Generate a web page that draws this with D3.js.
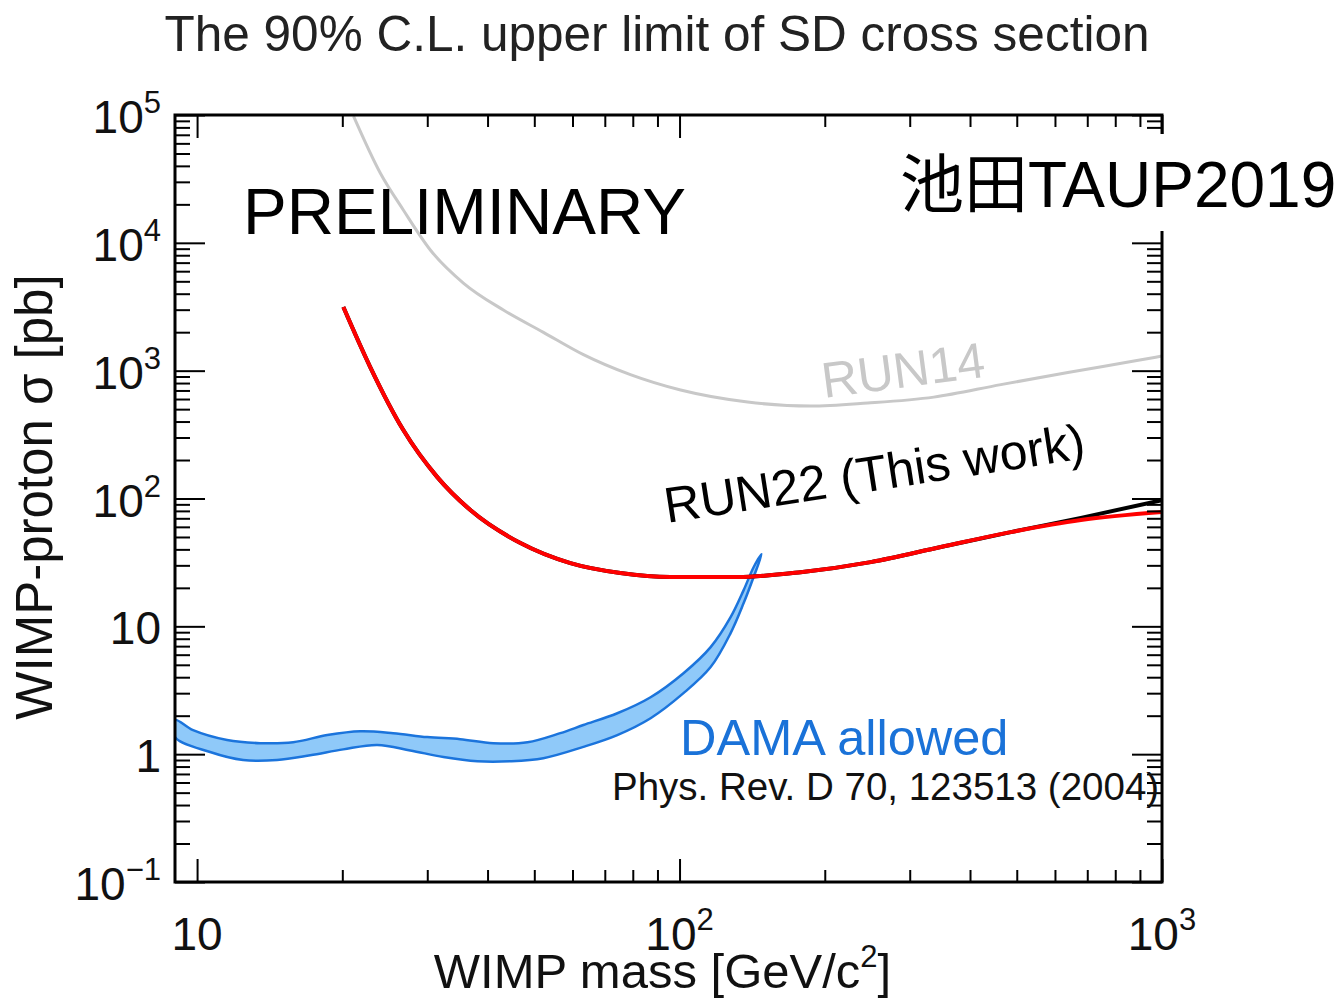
<!DOCTYPE html>
<html>
<head>
<meta charset="utf-8">
<script src="https://cdn.jsdelivr.net/npm/d3@7"></script>
<style>
  body { margin: 0; background: #fff; }
  text { font-family: "Liberation Sans", Arial, "Noto Sans CJK JP", sans-serif; }
</style>
</head>
<body>
<div id="chart"></div>
<script>
// ---- data ----
var run14Mass  = [21.1, 23.97, 26.76, 30.44, 35.64, 43.14, 52.22, 63.22, 79.1, 100.5, 138.4, 187, 245.5, 336.5, 463.4, 638, 875, 1000];
var run14Sigma = [98000, 35200, 18060, 8790, 4845, 2980, 1995, 1334, 930, 705, 568, 528, 558, 621, 778, 966, 1189, 1300];

var run22Mass     = [20.1, 22.85, 26.76, 31.47, 36.85, 46.8, 59.4, 75.4, 95.8, 131.9, 178.2, 249, 348, 486, 679, 1000];
var run22Sigma    = [3146, 1067, 343, 147, 81.2, 44.8, 31.2, 26.1, 24.3, 24.3, 26.5, 31.8, 41.7, 54.6, 67.8, 78.3];
var run22BlkSigma = [3146, 1067, 343, 147, 81.2, 44.8, 31.2, 26.1, 24.3, 24.3, 26.5, 31.8, 41.7, 54.6, 70.5, 97.0];

var damaUpperMass  = [9.0, 9.81, 11.54, 13.51, 15.82, 18.61, 21.79, 25.5, 30.0, 35.1, 41.1, 48.4, 56.6, 63.2, 74.3, 87.1, 101.9, 116, 127.6, 135.8, 142.4, 147.9];
var damaUpperSigma = [1.85, 1.54, 1.29, 1.22, 1.24, 1.41, 1.51, 1.46, 1.36, 1.31, 1.22, 1.24, 1.46, 1.69, 2.09, 2.79, 4.3, 6.88, 11.8, 19.2, 29.0, 36.7];
var damaLowerMass  = [9.0, 10.64, 12.46, 14.65, 17.16, 20.09, 23.63, 27.66, 32.4, 38.1, 44.6, 52.2, 63.2, 74.3, 87.1, 101.9, 116, 127.6, 135.8, 142.4];
var damaLowerSigma = [1.36, 1.04, 0.90, 0.90, 0.98, 1.09, 1.18, 1.07, 0.95, 0.88, 0.88, 0.93, 1.14, 1.41, 1.91, 3.0, 4.8, 8.85, 15.2, 24.3];

var xMajor = [10, 100, 1000];
var xMajorLabels = [["10", ""], ["10", "2"], ["10", "3"]];
var xMinor = [20, 30, 40, 50, 60, 70, 80, 90, 200, 300, 400, 500, 600, 700, 800, 900];
var yMajor = [0.1, 1, 10, 100, 1e3, 1e4, 1e5];
var yMajorLabels = [["10", "\u22121"], ["1", ""], ["10", ""], ["10", "2"], ["10", "3"], ["10", "4"], ["10", "5"]];
var yMinor = [];
[0.1, 1, 10, 100, 1000, 10000].forEach(function(d) {
  for (var k = 2; k <= 9; k++) yMinor.push(+(k * d).toPrecision(3));
});

// ---- layout ----
var svgWidth = 1338;
var svgHeight = 999;
var margin = { top: 115, right: 176, bottom: 117, left: 175 };
var width = svgWidth - margin.left - margin.right;
var height = svgHeight - margin.top - margin.bottom;

var svg = d3.select("#chart")
  .append("svg")
  .attr("width", svgWidth)
  .attr("height", svgHeight)
  .style("background", "#fff");

var chartGroup = svg.append("g")
  .attr("transform", `translate(${margin.left}, ${margin.top})`);

var x = d3.scaleLog().domain([9, 1000]).range([0, width]);
var y = d3.scaleLog().domain([0.1, 1e5]).range([height, 0]);

chartGroup.append("clipPath").attr("id", "plotclip")
  .append("rect").attr("width", width).attr("height", height);

var plot = chartGroup.append("g").attr("clip-path", "url(#plotclip)");

var zip = function(ms, ss) { return ms.map(function(m, i) { return [m, ss[i]]; }); };

var line = d3.line()
  .x(d => x(d[0]))
  .y(d => y(d[1]))
  .curve(d3.curveMonotoneX);

// DAMA band: upper edge out to the tip, lower edge back
var damaPts = zip(damaUpperMass, damaUpperSigma).concat(zip(damaLowerMass, damaLowerSigma).reverse());
var bandLine = d3.line()
  .x(d => x(d[0]))
  .y(d => y(d[1]))
  .curve(d3.curveCatmullRomClosed.alpha(0.5));

plot.append("path")
  .attr("d", bandLine(damaPts))
  .attr("fill", "#8fc9f9")
  .attr("stroke", "#1b74dc")
  .attr("stroke-width", 2.5);

plot.append("path")
  .attr("d", line(zip(run14Mass, run14Sigma)))
  .attr("fill", "none")
  .attr("stroke", "#c8c8c8")
  .attr("stroke-width", 3);

plot.append("path")
  .attr("d", line(zip(run22Mass, run22BlkSigma)))
  .attr("fill", "none")
  .attr("stroke", "#000")
  .attr("stroke-width", 4);

plot.append("path")
  .attr("d", line(zip(run22Mass, run22Sigma)))
  .attr("fill", "none")
  .attr("stroke", "#ff0000")
  .attr("stroke-width", 4);

// ---- ticks on all four sides, pointing inward ----
function ticks(axis, vals, size, transform) {
  var g = chartGroup.append("g")
    .attr("transform", transform)
    .call(axis.tickValues(vals).tickSize(-size).tickFormat(""));
  g.select(".domain").remove();
  g.selectAll("line").attr("stroke", "#000").attr("stroke-width", 2);
}
ticks(d3.axisBottom(x), xMinor, 12, `translate(0, ${height})`);
ticks(d3.axisBottom(x), xMajor, 23, `translate(0, ${height})`);
ticks(d3.axisTop(x), xMinor, 12, "translate(0, 0)");
ticks(d3.axisTop(x), xMajor, 23, "translate(0, 0)");
ticks(d3.axisLeft(y), yMinor, 15, "translate(0, 0)");
ticks(d3.axisLeft(y), yMajor, 30, "translate(0, 0)");
ticks(d3.axisRight(y), yMinor, 15, `translate(${width}, 0)`);
ticks(d3.axisRight(y), yMajor, 30, `translate(${width}, 0)`);

chartGroup.append("rect")
  .attr("width", width)
  .attr("height", height)
  .attr("fill", "none")
  .attr("stroke", "#000")
  .attr("stroke-width", 3);

// ---- tick labels ----
var xl = chartGroup.selectAll(null)
  .data(xMajor)
  .enter()
  .append("text")
  .attr("x", d => x(d))
  .attr("y", height + 68)
  .attr("text-anchor", "middle")
  .style("font-size", "46px")
  .attr("fill", "#111");
xl.append("tspan").text((d, i) => xMajorLabels[i][0]);
xl.append("tspan").attr("dy", -20).style("font-size", "31px").text((d, i) => xMajorLabels[i][1]);

var yl = chartGroup.selectAll(null)
  .data(yMajor)
  .enter()
  .append("text")
  .attr("x", -14)
  .attr("y", d => y(d) + 18)
  .attr("text-anchor", "end")
  .style("font-size", "46px")
  .attr("fill", "#111");
yl.append("tspan").text((d, i) => yMajorLabels[i][0]);
yl.append("tspan").attr("dy", -20).style("font-size", "31px").text((d, i) => yMajorLabels[i][1]);

// ---- axis titles ----
var xt = chartGroup.append("text")
  .attr("x", width / 2 - 6)
  .attr("y", height + 106)
  .attr("text-anchor", "middle")
  .style("font-size", "49px")
  .attr("fill", "#111");
xt.append("tspan").text("WIMP mass [GeV/c");
xt.append("tspan").attr("dy", -21).style("font-size", "31px").text("2");
xt.append("tspan").attr("dy", 21).text("]");

chartGroup.append("text")
  .attr("transform", `translate(${52 - margin.left}, ${497 - margin.top}) rotate(-90)`)
  .attr("text-anchor", "middle")
  .style("font-size", "51px")
  .attr("fill", "#111")
  .text("WIMP-proton \u03c3 [pb]");

// ---- annotations ----
svg.append("text")
  .attr("x", 657)
  .attr("y", 51)
  .attr("text-anchor", "middle")
  .style("font-size", "49.5px")
  .attr("fill", "#222")
  .text("The 90% C.L. upper limit of SD cross section");

svg.append("text")
  .attr("x", 243)
  .attr("y", 234)
  .style("font-size", "65.5px")
  .attr("fill", "#000")
  .text("PRELIMINARY");

svg.append("text")
  .attr("transform", "translate(824, 398) rotate(-7.5)")
  .style("font-size", "50px")
  .attr("fill", "#c8c8c8")
  .text("RUN14");

svg.append("text")
  .attr("transform", "translate(667, 523) rotate(-8.8)")
  .style("font-size", "50px")
  .attr("fill", "#000")
  .text("RUN22 (This work)");

svg.append("text")
  .attr("x", 680)
  .attr("y", 755)
  .style("font-size", "50.5px")
  .attr("fill", "#1a72d8")
  .text("DAMA allowed");

svg.append("text")
  .attr("x", 612)
  .attr("y", 800)
  .style("font-size", "38.5px")
  .attr("fill", "#111")
  .text("Phys. Rev. D 70, 123513 (2004)");

svg.append("rect")
  .attr("x", 895)
  .attr("y", 134)
  .attr("width", 443)
  .attr("height", 97)
  .attr("fill", "#fff");

svg.append("text")
  .attr("x", 900)
  .attr("y", 207)
  .style("font-size", "64px")
  .style("font-family", "\"Liberation Sans\", \"Noto Sans CJK JP\", sans-serif")
  .attr("fill", "#000")
  .text("池田TAUP2019");
</script>
</body>
</html>
